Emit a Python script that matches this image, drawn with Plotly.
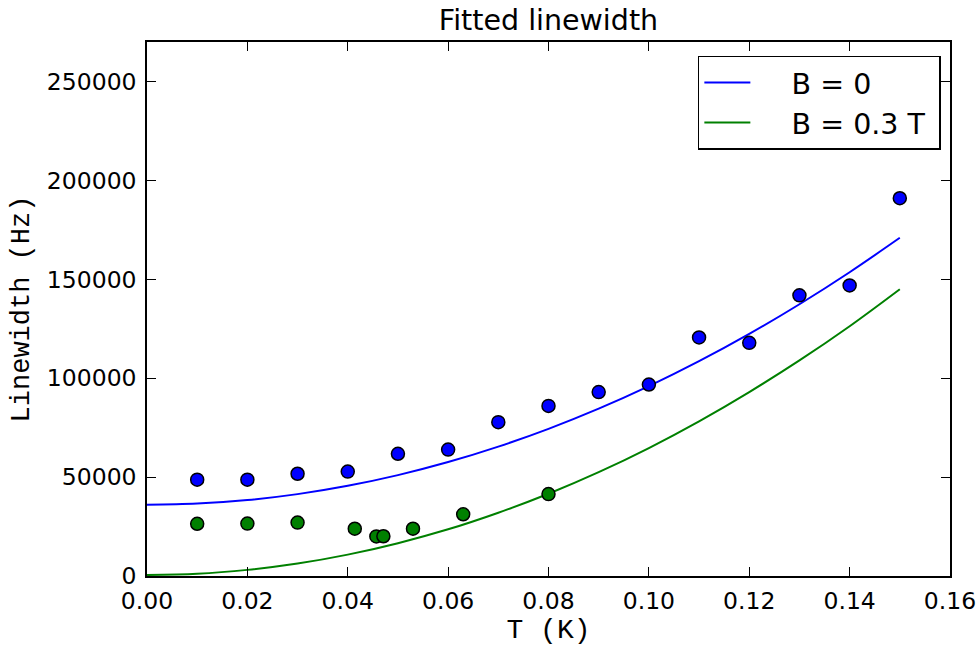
import plotly.graph_objects as go

# Fitted curves
fit_T = [0.00, 0.01, 0.02, 0.03, 0.04, 0.05, 0.06, 0.07, 0.08, 0.09, 0.10, 0.11, 0.12, 0.13, 0.14, 0.15]
fit_b0 = [36000, 36600, 38400, 41400, 45600, 51000, 57600, 65400, 74400, 84600, 96000, 108600, 122400, 137400, 153600, 171000]
fit_b03 = [500, 1100, 3100, 6300, 10800, 16600, 23600, 32000, 41600, 52500, 64700, 78200, 93000, 109000, 126300, 145000]

# Measured points
meas_T_b0 = [0.01, 0.02, 0.03, 0.04, 0.05, 0.06, 0.07, 0.08, 0.09, 0.10, 0.11, 0.12, 0.13, 0.14, 0.15]
meas_b0 = [48700, 48700, 51700, 52800, 61800, 63900, 77800, 86000, 93000, 96800, 120600, 117900, 141900, 146900, 191000]
meas_T_b03 = [0.01, 0.02, 0.03, 0.0414, 0.0457, 0.0471, 0.053, 0.063, 0.080]
meas_b03 = [26400, 26500, 27000, 23900, 20000, 20100, 23900, 31200, 41400]

x_ticks = [0.00, 0.02, 0.04, 0.06, 0.08, 0.10, 0.12, 0.14, 0.16]
y_ticks = [0, 50000, 100000, 150000, 200000, 250000]
legend_names = ["B = 0", "B = 0.3 T"]

BLUE = "#0000ff"
GREEN = "#008000"
MONO = "Courier New, Courier, Nimbus Mono PS, FreeMono, Liberation Mono, monospace"
PAD = "\u00a0" * 4

fig = go.Figure()
fig.add_trace(go.Scatter(x=fit_T, y=fit_b0, mode="lines", name=PAD + legend_names[0] + "\u00a0",
                         legendgroup="a", line=dict(color=BLUE, width=2, shape="spline")))
fig.add_trace(go.Scatter(x=fit_T, y=fit_b03, mode="lines", name=PAD + legend_names[1] + "\u00a0",
                         legendgroup="b", line=dict(color=GREEN, width=2, shape="spline")))
fig.add_trace(go.Scatter(x=meas_T_b0, y=meas_b0, mode="markers", showlegend=False,
                         marker=dict(color=BLUE, size=13, line=dict(color="black", width=1.5))))
fig.add_trace(go.Scatter(x=meas_T_b03, y=meas_b03, mode="markers", showlegend=False,
                         marker=dict(color=GREEN, size=13, line=dict(color="black", width=1.5))))

axis_common = dict(showgrid=False, zeroline=False, showline=True, linecolor="black", linewidth=1.5,
                   ticks="inside", ticklen=9, tickwidth=1, tickcolor="black", mirror="allticks",
                   automargin=False, ticklabeloverflow="allow",
                   tickfont=dict(family="DejaVu Sans", size=23.5, color="black"))

fig.update_layout(
    width=979, height=646,
    margin=dict(l=147, r=29, t=42, b=70),
    paper_bgcolor="white", plot_bgcolor="white",
    title=dict(text="Fitted linewidth", xref="paper", x=0.5, xanchor="center", y=0.969, yanchor="middle",
               font=dict(family="DejaVu Sans", size=28.5, color="black")),
    xaxis=dict(range=[0, 0.16], tickvals=x_ticks, tickformat=".2f", ticklabelstandoff=3,
               title=dict(text="T (K)", font=dict(family=MONO, size=28, color="black"), standoff=3),
               **axis_common),
    yaxis=dict(range=[0, 270000], tickvals=y_ticks, tickformat="d", ticklabelstandoff=4,
               title=dict(text="Linewidth (Hz)", font=dict(family=MONO, size=27, color="black"), standoff=9),
               **axis_common),
    legend=dict(x=0.686, y=0.974, xanchor="left", yanchor="top",
                bgcolor="white", bordercolor="black", borderwidth=1.5,
                itemwidth=46, tracegroupgap=0,
                font=dict(family="DejaVu Sans", size=28.5, color="black")),
    showlegend=True,
)

fig.write_html("out.html")
